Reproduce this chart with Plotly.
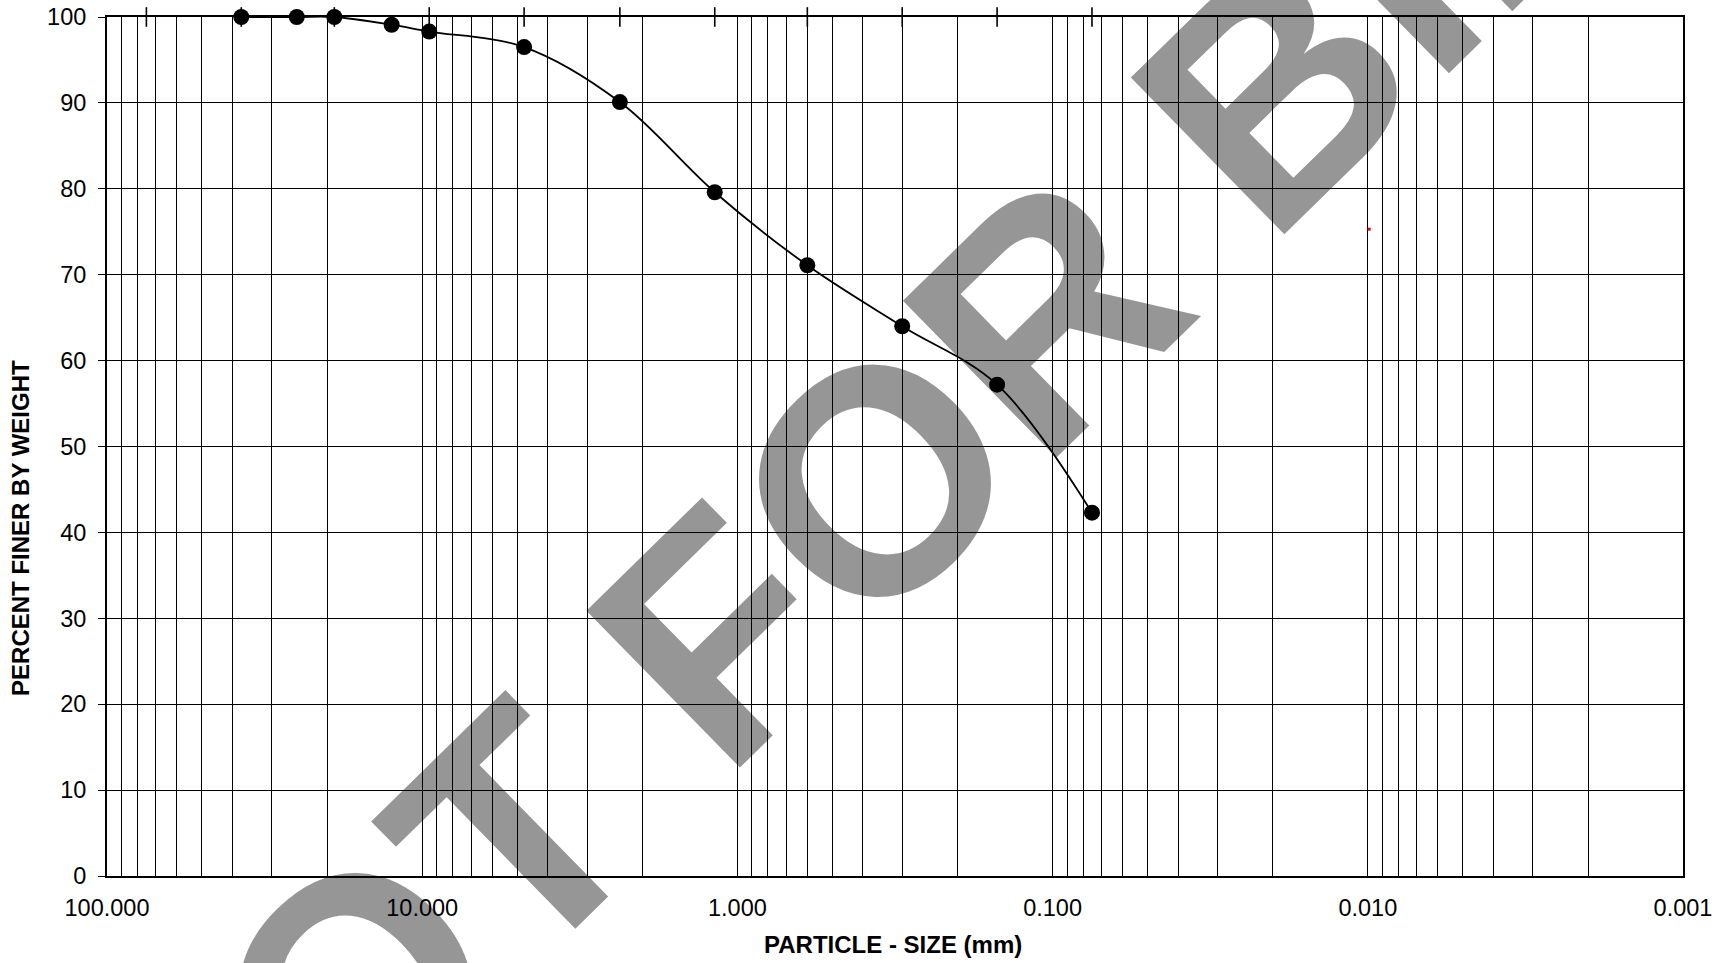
import plotly.graph_objects as go

# ---- data ----
sieve_size_mm = [37.5, 25.0, 19.0, 12.5, 9.5, 4.75, 2.36, 1.18, 0.6, 0.3, 0.15, 0.075]
percent_finer = [100.0, 100.0, 100.0, 99.1, 98.3, 96.5, 90.1, 79.6, 71.1, 64.0, 57.2, 42.3]
top_sieve_marks_mm = [75, 37.5, 19, 9.5, 4.75, 2.36, 1.18, 0.6, 0.3, 0.15, 0.075]
stray_point_mm = [0.0099]
stray_point_pct = [75.3]
x_tick_vals = [100, 10, 1, 0.1, 0.01, 0.001]
x_tick_text = ["100.000", "10.000", "1.000", "0.100", "0.010", "0.001"]
y_tick_vals = [0, 10, 20, 30, 40, 50, 60, 70, 80, 90, 100]
minor_multipliers = [2, 3, 4, 5, 6, 7, 8, 9]
decades = [0.001, 0.01, 0.1, 1, 10]
minor_grid_vals = [m * d for d in decades for m in minor_multipliers]

FONT = "Liberation Sans, Arial, sans-serif"

fig = go.Figure()

# top sieve tick marks crossing the top border
fig.add_trace(go.Scatter(
    x=top_sieve_marks_mm, y=[100] * len(top_sieve_marks_mm),
    mode="markers",
    marker=dict(symbol="line-ns", size=14, line=dict(color="black", width=1.6)),
    cliponaxis=False, hoverinfo="skip", showlegend=False,
))

# gradation curve
fig.add_trace(go.Scatter(
    x=sieve_size_mm, y=percent_finer,
    mode="lines+markers",
    line=dict(color="black", width=1.8, shape="spline", smoothing=1.0),
    marker=dict(color="black", size=16),
    cliponaxis=False, showlegend=False,
))

# tiny red point
fig.add_trace(go.Scatter(
    x=stray_point_mm, y=stray_point_pct, mode="markers",
    marker=dict(color="red", size=3, symbol="square"),
    showlegend=False,
))

fig.update_layout(
    width=1724, height=963, autosize=False,
    margin=dict(l=107, r=41, t=17, b=87, autoexpand=False),
    paper_bgcolor="white", plot_bgcolor="white",
    font=dict(family=FONT, color="black", size=23),
    showlegend=False,
)

fig.update_xaxes(
    type="log", range=[2, -3], automargin=False,
    tickmode="array", tickvals=x_tick_vals, ticktext=x_tick_text,
    tickfont=dict(family=FONT, size=23.5, color="black"),
    ticks="", ticklabelstandoff=10,
    showgrid=True, gridcolor="black", gridwidth=1,
    minor=dict(tickmode="array", tickvals=minor_grid_vals, showgrid=True,
               gridcolor="black", gridwidth=1, ticks=""),
    showline=True, linecolor="black", linewidth=2, mirror=True,
    zeroline=False,
)

fig.update_yaxes(
    range=[0, 100], tickmode="array", tickvals=y_tick_vals, automargin=False,
    tickfont=dict(family=FONT, size=23.5, color="black"),
    ticks="outside", ticklen=7, tickcolor="black", tickwidth=1,
    ticklabelstandoff=7,
    showgrid=True, gridcolor="black", gridwidth=1,
    showline=True, linecolor="black", linewidth=2, mirror=True,
    zeroline=False,
)

fig.add_annotation(
    text="<b>PARTICLE - SIZE (mm)</b>", xref="paper", yref="paper",
    x=0.4985, y=-0.0795, showarrow=False,
    font=dict(family=FONT, size=24, color="black"),
    xanchor="center", yanchor="middle",
)
fig.add_annotation(
    text="<b>PERCENT FINER BY WEIGHT</b>", xref="paper", yref="paper",
    x=-0.0553, y=0.405, showarrow=False, textangle=-90,
    font=dict(family=FONT, size=24, color="black"),
    xanchor="center", yanchor="middle",
)

# watermark
fig.add_annotation(
    text="<b>NOT FOR BIDDING</b>", xref="paper", yref="paper",
    x=0.648, y=0.7494, showarrow=False, textangle=-44.4,
    font=dict(family=FONT, size=319, color="rgba(0,0,0,0.41)"),
    xanchor="center", yanchor="middle",
)

fig.write_html("out.html")
